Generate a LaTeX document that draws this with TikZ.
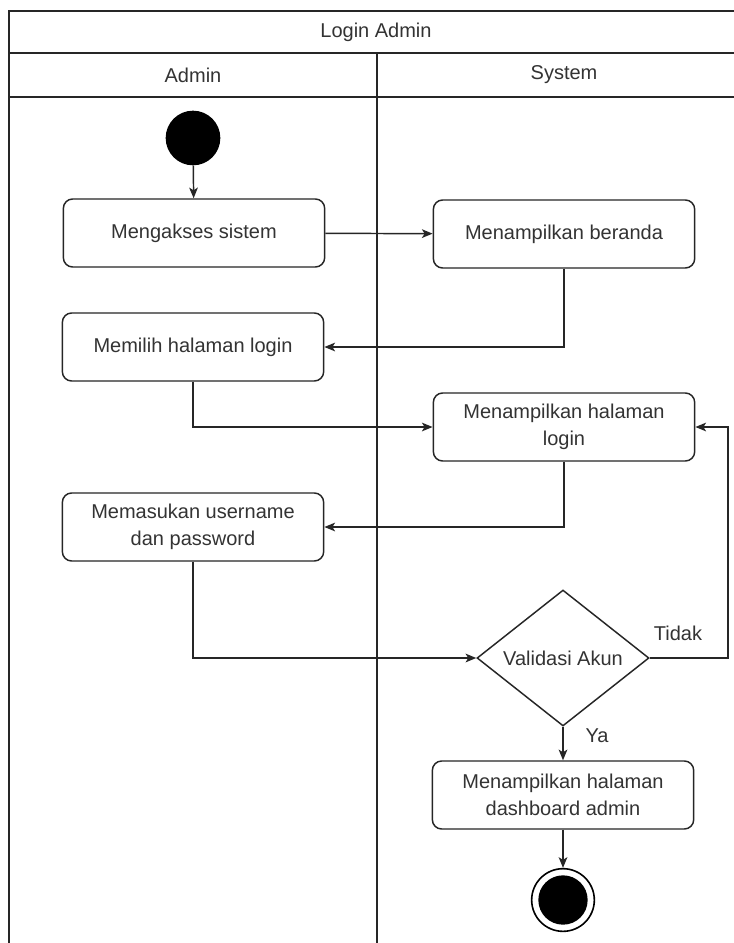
\documentclass[tikz,border=0pt]{standalone}
\usepackage{fontspec}
\setmainfont{Liberation Sans}
\usetikzlibrary{shapes.geometric,arrows.meta}

\begin{document}
\begin{tikzpicture}[x=0.75pt,y=-0.75pt,
  font=\fontsize{15}{20}\selectfont,
  lane/.style={draw=black!85, line width=1.2pt},
  act/.style={draw=black!85, line width=1.1pt, fill=white, rounded corners=7pt,
    minimum width=196pt, minimum height=51pt, align=center, text=black!80},
  decision/.style={diamond, draw=black!85, line width=1.1pt, fill=white, inner sep=0pt,
    minimum width=129pt, minimum height=102pt, text=black!80},
  initial/.style={circle, fill=black, minimum size=41pt, inner sep=0pt},
  final/.style={circle, draw=black, line width=1.2pt, fill=white, minimum size=47pt, inner sep=0pt,
    path picture={\fill[black] (path picture bounding box.center) circle (18.5pt);}},
  flow/.style={draw=black!85, line width=1.1pt, -{Stealth[length=8pt,width=6.5pt,inset=2pt]}},
  lbl/.style={text=black!80}]
\useasboundingbox (0,0) rectangle (734,943);
\fill[white] (0,0) rectangle (734,943);
\clip (0,0) rectangle (734,943);

% swimlanes
\draw[lane] (9,11) rectangle (760,960);
\draw[lane] (9,53) -- (760,53);
\draw[lane] (9,97) -- (760,97);
\draw[lane] (377,53) -- (377,960);
\node[lbl] (judul) at (376,32) {Login Admin};
\node[lbl] (admin) at (193,75) {Admin};
\node[lbl] (sistem) at (564,75) {System};

% activities
\node[initial] (start) at (193,138) {};
\node[act] (akses) at (194,233) {Mengakses sistem};
\node[act] (beranda) at (564,234) {Menampilkan beranda};
\node[act] (pilih) at (193,347) {Memilih halaman login};
\node[act] (hlogin) at (564,427) {Menampilkan halaman\\login};
\node[act] (masuk) at (193,527) {Memasukan username\\dan password};
\node[decision] (validasi) at (563,658) {Validasi Akun};
\node[act] (dash) at (563,795) {Menampilkan halaman\\dashboard admin};
\node[final] (end) at (563,900) {};
\coordinate (ulang) at (728,540);

% flows
\draw[flow] (start) -- (akses);
\draw[flow] (akses) -- (beranda);
\draw[flow] (beranda.south) |- (pilih.east);
\draw[flow] (pilih.south) |- (hlogin.west);
\draw[flow] (hlogin.south) |- (masuk.east);
\draw[flow] (masuk.south) |- (validasi.west);
\draw[flow] (validasi.east) -| (ulang) |- (hlogin.east);
\draw[flow] (validasi) -- (dash);
\draw[flow] (dash) -- (end);
\node[lbl] (tidak) at (678,633) {Tidak};
\node[lbl] (ya) at (597,736) {Ya};
\end{tikzpicture}
\end{document}
